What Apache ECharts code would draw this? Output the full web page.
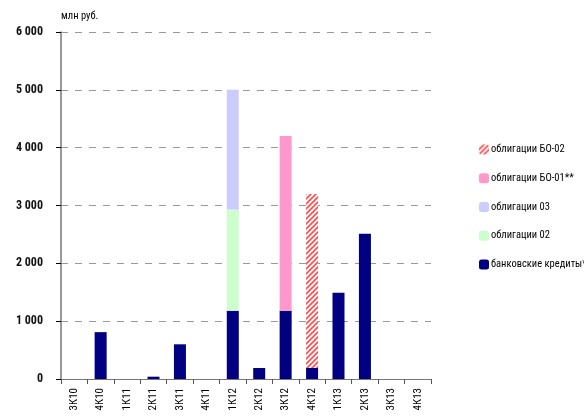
<!DOCTYPE html>
<html>
<head>
<meta charset="utf-8">
<script src="https://cdn.jsdelivr.net/npm/echarts@6/dist/echarts.min.js"></script>
<style>
  html, body { margin: 0; padding: 0; background: #fff; }
  #chart { width: 584px; height: 417px; }
</style>
</head>
<body>
<div id="chart"></div>
<script>
const categories = ["3К10", "4К10", "1К11", "2К11", "3К11", "4К11", "1К12", "2К12", "3К12", "4К12", "1К13", "2К13", "3К13", "4К13"];
const bankCredits = [0, 810, 0, 40, 600, 0, 1180, 190, 1180, 190, 1490, 2510, 0, 0];
const bonds02 = [0, 0, 0, 0, 0, 0, 1750, 0, 0, 0, 0, 0, 0, 0];
const bonds03 = [0, 0, 0, 0, 0, 0, 2070, 0, 0, 0, 0, 0, 0, 0];
const bondsBO01 = [0, 0, 0, 0, 0, 0, 0, 0, 3020, 0, 0, 0, 0, 0];
const bondsBO02 = [0, 0, 0, 0, 0, 0, 0, 0, 0, 3010, 0, 0, 0, 0];
const yTicks = [0, 1000, 2000, 3000, 4000, 5000, 6000];

const font = '"Roboto Condensed", "DejaVu Sans Condensed", sans-serif';

// штриховка для БО-02
const makeHatch = () => {
  const c = document.createElement("canvas");
  c.width = 5;
  c.height = 5;
  const ctx = c.getContext("2d");
  ctx.fillStyle = "#ffffff";
  ctx.fillRect(0, 0, 5, 5);
  ctx.strokeStyle = "#ff4d4d";
  ctx.lineWidth = 1.6;
  ctx.beginPath();
  ctx.moveTo(-1, 6); ctx.lineTo(6, -1);
  ctx.moveTo(-3.5, 3.5); ctx.lineTo(3.5, -3.5);
  ctx.moveTo(1.5, 8.5); ctx.lineTo(8.5, 1.5);
  ctx.stroke();
  return c;
};

const nz = (arr) => arr.map((v) => (v === 0 ? "-" : v));

const chart = echarts.init(document.getElementById("chart"));
const barW = 12;

chart.setOption({
  animation: false,
  textStyle: { fontFamily: font },
  grid: { left: 61, right: 153, top: 32, bottom: 38 },
  legend: {
    orient: "vertical",
    left: 474,
    top: 138,
    itemWidth: 10,
    itemHeight: 10,
    itemGap: 15.75,
    textStyle: { fontFamily: font, fontSize: 10.5, lineHeight: 13, color: "#000", padding: [0, 0, 0, -3] },
    data: ["облигации БО-02", "облигации БО-01**", "облигации 03", "облигации 02", "банковские кредиты*"]
  },
  xAxis: {
    type: "category",
    data: categories,
    axisLine: { lineStyle: { color: "#777", width: 1 } },
    axisTick: { show: true, length: 5, lineStyle: { color: "#555" } },
    axisLabel: { rotate: 90, fontFamily: font, fontSize: 11, color: "#000", margin: 9 }
  },
  yAxis: {
    type: "value",
    min: 0,
    max: 6000,
    interval: 1000,
    name: "млн руб.",
    nameLocation: "end",
    nameGap: 10,
    nameTextStyle: { fontFamily: font, fontSize: 10.5, color: "#000", align: "left", padding: [0, 0, 0, 0] },
    axisLine: { show: true, lineStyle: { color: "#777", width: 1.5 } },
    axisTick: { show: true, length: 5, lineStyle: { color: "#000" } },
    axisLabel: {
      fontFamily: font,
      fontSize: 12,
      fontWeight: "bold",
      color: "#111",
      margin: 18,
      formatter: (v) => (yTicks.includes(v) ? String(v).replace(/\B(?=(\d{3})+(?!\d))/g, " ") : "")
    },
    splitLine: { lineStyle: { color: "#999", type: [7, 7] } }
  },
  series: [
    {
      name: "банковские кредиты*",
      type: "bar",
      stack: "total",
      barWidth: barW,
      itemStyle: { color: "#000080" },
      data: nz(bankCredits)
    },
    {
      name: "облигации 02",
      type: "bar",
      stack: "total",
      barWidth: barW,
      itemStyle: { color: "#ccffcc" },
      data: nz(bonds02)
    },
    {
      name: "облигации 03",
      type: "bar",
      stack: "total",
      barWidth: barW,
      itemStyle: { color: "#ccccff" },
      data: nz(bonds03)
    },
    {
      name: "облигации БО-01**",
      type: "bar",
      stack: "total",
      barWidth: barW,
      itemStyle: { color: "#ff99cc" },
      data: nz(bondsBO01)
    },
    {
      name: "облигации БО-02",
      type: "bar",
      stack: "total",
      barWidth: barW,
      itemStyle: { color: { image: makeHatch(), repeat: "repeat" } },
      data: nz(bondsBO02)
    }
  ]
});
</script>
</body>
</html>
